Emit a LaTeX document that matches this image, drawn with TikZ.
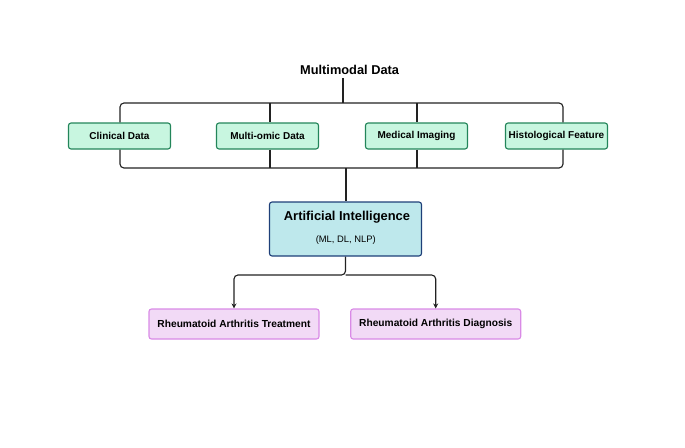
\documentclass[tikz,border=0pt]{standalone}
\usepackage{fontspec}
\setmainfont{Liberation Sans}
\usetikzlibrary{arrows.meta}
\definecolor{gfill}{HTML}{C8F6E0}
\definecolor{gdraw}{HTML}{23855A}
\definecolor{afill}{HTML}{BEE8EC}
\definecolor{adraw}{HTML}{1E3F78}
\definecolor{pfill}{HTML}{F2DAF6}
\definecolor{pdraw}{HTML}{D98AE6}
\definecolor{lcol}{HTML}{222222}
\tikzset{
  gbox/.style={draw=gdraw, fill=gfill, line width=1.1pt, rounded corners=2.5pt, minimum width=102pt, minimum height=26pt, inner sep=0pt, font=\fontsize{10}{12}\selectfont\bfseries, text=black},
  pbox/.style={draw=pdraw, fill=pfill, line width=1.1pt, rounded corners=2.5pt, minimum width=170pt, minimum height=30pt, inner sep=0pt, font=\fontsize{10.2}{12}\selectfont\bfseries, text=black},
  abox/.style={draw=adraw, fill=afill, line width=1.1pt, rounded corners=2.5pt, minimum width=152pt, minimum height=54pt, inner sep=0pt},
  conn/.style={draw=lcol, line width=1.15pt, rounded corners=4pt},
  arr/.style={conn, -{Stealth[length=5pt,width=5pt]}}
}
\begin{document}
\begin{tikzpicture}[x=1pt,y=-1pt]
\useasboundingbox (0,0) rectangle (685,447);
\node[font=\fontsize{12.8}{15}\selectfont\bfseries] (md) at (349.6,70) {Multimodal Data};
\node[gbox] (cd) at (119.5,136) {Clinical Data};
\node[gbox] (mo) at (267.5,136) {Multi-omic Data};
\node[gbox] (mi) at (416.5,136) {Medical Imaging};
\node[gbox] (hf) at (556.5,136) {Histological Feature};
\node[abox] (ai) at (345.5,229) {};
\node[font=\fontsize{12.9}{15}\selectfont\bfseries] (ait) at (347,217.5) {Artificial Intelligence};
\node[font=\fontsize{9.4}{11}\selectfont] (ais) at (345.8,240) {(ML, DL, NLP)};
\node[pbox] (rt) at (234,324) {Rheumatoid Arthritis Treatment};
\node[pbox] (rd) at (435.7,324) {Rheumatoid Arthritis Diagnosis};
\coordinate (tl) at (120,103);
\coordinate (tr) at (563,103);
\coordinate (bl) at (120,168);
\coordinate (br) at (563,168);
\coordinate (tm) at (343,103);
\coordinate (v1) at (270,103);
\coordinate (v2) at (417,103);
\coordinate (bm) at (346,168);
\draw[conn] (tm |- md.south) -- (tm);
\draw[conn] (cd.north -| tl) -- (tl) -- (tr) -- (hf.north -| tr);
\draw[conn] (cd.south -| bl) -- (bl) -- (br) -- (hf.south -| br);
\draw[conn] (v1) -- (v1 |- mo.north);
\draw[conn] (mo.south -| v1) -- (v1 |- bl);
\draw[conn] (v2) -- (v2 |- mi.north);
\draw[conn] (mi.south -| v2) -- (v2 |- bl);
\draw[conn] (bm) -- (bm |- ai.north);
\coordinate (sp) at (345.5,275);
\draw[arr] (ai.south) -- (sp) -| (rt.north);
\draw[arr] (sp) -| (rd.north);
\end{tikzpicture}
\end{document}
